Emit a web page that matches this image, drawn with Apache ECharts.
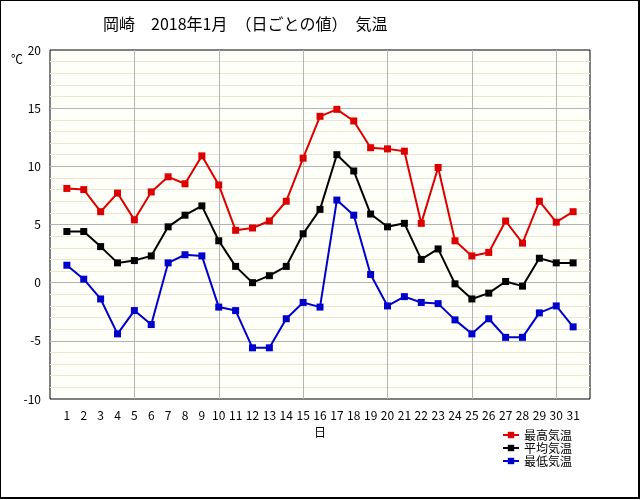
<!DOCTYPE html>
<html>
<head>
<meta charset="utf-8">
<script src="https://cdn.jsdelivr.net/npm/echarts@6/dist/echarts.min.js"></script>
<style>html,body{margin:0;padding:0;background:#fff}#c{width:640px;height:500px}</style>
</head>
<body>
<div id="c"></div>
<script>
var days = [1,2,3,4,5,6,7,8,9,10,11,12,13,14,15,16,17,18,19,20,21,22,23,24,25,26,27,28,29,30,31];
var seriesNames = ['最高気温','平均気温','最低気温'];
var maxTemp = [8.1,8.0,6.1,7.7,5.4,7.8,9.1,8.5,10.9,8.4,4.5,4.7,5.3,7.0,10.7,14.3,14.9,13.9,11.6,11.5,11.3,5.1,9.9,3.6,2.3,2.6,5.3,3.4,7.0,5.2,6.1];
var avgTemp = [4.4,4.4,3.1,1.7,1.9,2.3,4.8,5.8,6.6,3.6,1.4,0.0,0.6,1.4,4.2,6.3,11.0,9.6,5.9,4.8,5.1,2.0,2.9,-0.1,-1.4,-0.9,0.1,-0.3,2.1,1.7,1.7];
var minTemp = [1.5,0.3,-1.4,-4.4,-2.4,-3.6,1.7,2.4,2.3,-2.1,-2.4,-5.6,-5.6,-3.1,-1.7,-2.1,7.1,5.8,0.7,-2.0,-1.2,-1.7,-1.8,-3.2,-4.4,-3.1,-4.7,-4.7,-2.6,-2.0,-3.8];
var yTicks = [-10,-5,0,5,10,15,20];
var titleText = '岡崎　2018年1月　（日ごとの値）　気温';
var colors = ['#dd0000','#000000','#0000cc'];

function pairs(arr){ return days.map(function(d,i){ return [d, arr[i]]; }); }
var font = '"Noto Sans CJK JP", "DejaVu Sans", sans-serif';
var chart = echarts.init(document.getElementById('c'));
var data = [maxTemp, avgTemp, minTemp];
chart.setOption({
  animation: false,
  backgroundColor: '#ffffff',
  title: { text: titleText, left: 98, top: 11, textStyle: { fontFamily: font, fontSize: 16, fontWeight: 'normal', color: '#000' } },
  grid: { left: 50, right: 50, top: 50, bottom: 101, show: true, backgroundColor: '#fffffa', borderColor: '#000', borderWidth: 1 },
  legend: {
    orient: 'vertical', left: 497, top: 424, itemGap: 1, itemWidth: 16, itemHeight: 8,
    textStyle: { fontFamily: font, fontSize: 12, color: '#000' },
    data: seriesNames
  },
  xAxis: [{
    type: 'value', min: 0, max: 32, interval: 1,
    name: '日', nameLocation: 'middle', nameGap: 27,
    nameTextStyle: { fontFamily: font, fontSize: 12, color: '#000' },
    axisLine: { show: false }, axisTick: { show: false },
    splitLine: { show: false },
    axisLabel: { fontFamily: font, fontSize: 12, color: '#000', margin: 10,
      formatter: function(v){ return (v >= 1 && v <= 31) ? String(v) : ''; } }
  }, {
    type: 'value', min: 0, max: 32, interval: 5, position: 'bottom',
    axisLine: { show: false }, axisTick: { show: false }, axisLabel: { show: false },
    splitLine: { show: true, showMinLine: false, showMaxLine: false, lineStyle: { color: '#b4b4b4', width: 1 } }
  }],
  yAxis: {
    type: 'value', min: -10, max: 20, interval: 5,
    axisLine: { show: false }, axisTick: { show: false },
    axisLabel: { fontFamily: font, fontSize: 12, color: '#000', margin: 9 },
    splitLine: { show: true, showMinLine: false, showMaxLine: false, lineStyle: { color: '#b4b4b4', width: 1 } },
    minorTick: { show: false, splitNumber: 5 },
    minorSplitLine: { show: true, lineStyle: { color: '#ece5d0', width: 1 } }
  },
  graphic: [
    { type: 'text', left: 11, top: 53, style: { text: '℃', font: '12px ' + font, fill: '#000' } },
    { type: 'rect', shape: { x: 0, y: 0, width: 639, height: 498 }, style: { fill: 'none', stroke: '#000', lineWidth: 2 }, z: 100 }
  ],
  series: seriesNames.map(function(n, k){
    return {
      name: n, type: 'line', xAxisIndex: 0, data: pairs(data[k]),
      symbol: 'rect', symbolSize: 7, showAllSymbol: true,
      lineStyle: { color: colors[k], width: 2 },
      itemStyle: { color: colors[k] }
    };
  })
});
</script>
</body>
</html>
